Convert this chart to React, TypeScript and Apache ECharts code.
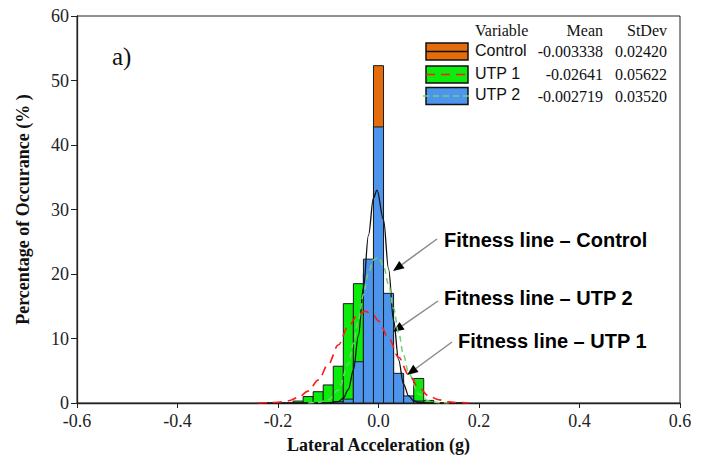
import React, { useEffect, useRef } from "react";
import * as echarts from "echarts";

// ---- data ----
const BIN_WIDTH = 0.02;

const controlBins = [-0.06, -0.04, -0.02, 0.0, 0.02, 0.04, 0.06];
const controlPct = [0.5, 5.0, 20.0, 52.3, 15.0, 3.5, 0.8];

const utp1Bins = [-0.16, -0.14, -0.12, -0.1, -0.08, -0.06, -0.04, -0.02, 0.0, 0.02, 0.04, 0.06, 0.08, 0.1];
const utp1Pct = [0.3, 1.0, 1.75, 2.8, 5.7, 15.4, 18.5, 20.0, 18.0, 8.0, 3.0, 1.0, 3.8, 0.4];

const utp2Bins = [-0.08, -0.06, -0.04, -0.02, 0.0, 0.02, 0.04, 0.06, 0.08];
const utp2Pct = [0.2, 0.6, 6.4, 22.3, 42.8, 17.0, 4.6, 1.1, 0.3];

const controlFitX = [-0.23, -0.1, -0.08, -0.07, -0.06, -0.05, -0.04, -0.03, -0.02, -0.01, -0.003, 0.01, 0.02, 0.03, 0.04, 0.05, 0.06, 0.07, 0.08, 0.1, 0.17];
const controlFitY = [0, 0.01, 0.22, 0.74, 2.1, 5.1, 10.4, 17.9, 26.0, 31.8, 33.0, 28.4, 20.8, 12.8, 6.7, 2.9, 1.1, 0.34, 0.09, 0, 0];

const utp2FitX = [-0.14, -0.12, -0.1, -0.08, -0.06, -0.05, -0.04, -0.03, -0.02, -0.01, 0.0, 0.01, 0.02, 0.03, 0.04, 0.05, 0.06, 0.08, 0.1, 0.12, 0.14];
const utp2FitY = [0.01, 0.09, 0.5, 2.0, 6.0, 9.2, 12.9, 16.8, 20.1, 22.2, 22.6, 21.2, 18.4, 14.7, 10.9, 7.4, 4.6, 1.4, 0.3, 0.05, 0];

const utp1FitX = [-0.24, -0.22, -0.2, -0.18, -0.16, -0.14, -0.12, -0.1, -0.08, -0.06, -0.04, -0.026, -0.01, 0.0, 0.02, 0.04, 0.06, 0.08, 0.1, 0.12, 0.14, 0.16, 0.18];
const utp1FitY = [0.01, 0.04, 0.12, 0.34, 0.84, 1.84, 3.55, 6.0, 9.0, 11.9, 13.8, 14.2, 13.6, 12.7, 10.1, 7.1, 4.4, 2.4, 1.1, 0.5, 0.18, 0.06, 0.01];

const legendNames = ["Control", "UTP 1", "UTP 2"];
const legendMeans = ["-0.003338", "-0.02641", "-0.002719"];
const legendStDevs = ["0.02420", "0.05622", "0.03520"];

const annotationTexts = ["Fitness line \u2013 Control", "Fitness line \u2013 UTP 2", "Fitness line \u2013 UTP 1"];

// ---- styles ----
const ORANGE = "#E46C0A";
const GREEN = "#0CEB0C";
const BLUE = "#4D94EC";
const RED = "#FF1A1A";
const LIGHTGREEN = "#72CF72";
const SERIF = '"Liberation Serif", "Times New Roman", serif';
const SANS = '"Liberation Sans", Arial, sans-serif';

function zip(xs: number[], ys: number[]) {
  return xs.map((x, i) => [x, ys[i]]);
}

function histSeries(name: string, bins: number[], pct: number[], color: string) {
  return {
    name,
    type: "custom",
    data: zip(bins, pct),
    encode: { x: 0, y: 1 },
    renderItem: (_p: any, api: any) => {
      const x = api.value(0);
      const y = api.value(1);
      const a = api.coord([x - BIN_WIDTH / 2, y]);
      const b = api.coord([x + BIN_WIDTH / 2, 0]);
      return {
        type: "rect",
        shape: { x: a[0], y: a[1], width: b[0] - a[0], height: b[1] - a[1] },
        style: { fill: color, stroke: "#1a1a1a", lineWidth: 1 },
      };
    },
    z: 2,
  };
}

function lineSeries(name: string, xs: number[], ys: number[], color: string, type: any, width: number) {
  return {
    name,
    type: "line",
    data: zip(xs, ys),
    showSymbol: false,
    smooth: 0.35,
    smoothMonotone: "x",
    lineStyle: { color, width, type },
    z: 3,
  };
}

function arrow(x1: number, y1: number, x2: number, y2: number) {
  const dx = x2 - x1;
  const dy = y2 - y1;
  const len = Math.sqrt(dx * dx + dy * dy);
  const ux = dx / len;
  const uy = dy / len;
  const hl = 11;
  const hw = 4.5;
  const bx = x2 - ux * hl;
  const by = y2 - uy * hl;
  return [
    {
      type: "line",
      shape: { x1, y1, x2: bx, y2: by },
      style: { stroke: "#8a8a8a", lineWidth: 1.5 },
    },
    {
      type: "polygon",
      shape: {
        points: [
          [x2, y2],
          [bx - uy * hw, by + ux * hw],
          [bx + uy * hw, by - ux * hw],
        ],
      },
      style: { fill: "#000" },
    },
  ];
}

export default function App() {
  const ref = useRef<HTMLDivElement>(null);

  useEffect(() => {
    document.body.style.margin = "0";
    if (!ref.current) return;
    const chart = echarts.init(ref.current, null, { renderer: "svg" });

    const swatchX = 426;
    const rowY = [51.5, 74.5, 96];
    const swatchColors = [ORANGE, GREEN, BLUE];

    const graphics: any[] = [];
    // panel label
    graphics.push({
      type: "text",
      style: { text: "a)", x: 112, y: 56, font: `25px ${SERIF}`, fill: "#111", verticalAlign: "middle", align: "left" },
    });
    // legend header
    graphics.push(
      { type: "text", style: { text: "Variable", x: 475, y: 30, font: `16px ${SERIF}`, fill: "#111", verticalAlign: "middle", align: "left" } },
      { type: "text", style: { text: "Mean", x: 603, y: 30, font: `16px ${SERIF}`, fill: "#111", verticalAlign: "middle", align: "right" } },
      { type: "text", style: { text: "StDev", x: 667, y: 30, font: `16px ${SERIF}`, fill: "#111", verticalAlign: "middle", align: "right" } }
    );
    legendNames.forEach((n, i) => {
      const cy = rowY[i];
      graphics.push({
        type: "rect",
        shape: { x: swatchX, y: cy - 8.5, width: 42, height: 17 },
        style: { fill: swatchColors[i], stroke: "#111", lineWidth: 1.5 },
      });
      if (i === 0) {
        graphics.push({ type: "line", shape: { x1: swatchX, y1: cy, x2: swatchX + 42, y2: cy }, style: { stroke: "#111", lineWidth: 1.5 } });
      } else if (i === 1) {
        graphics.push({ type: "line", shape: { x1: swatchX, y1: cy, x2: swatchX + 42, y2: cy }, style: { stroke: RED, lineWidth: 1.5, lineDash: [9, 6] } });
      } else {
        graphics.push({ type: "line", shape: { x1: swatchX - 3, y1: cy, x2: swatchX + 45, y2: cy }, style: { stroke: LIGHTGREEN, lineWidth: 1.5, lineDash: [6, 4] } });
      }
      graphics.push(
        { type: "text", style: { text: n, x: 475, y: cy - 1.5, font: `16px ${SANS}`, fill: "#111", verticalAlign: "middle", align: "left" } },
        { type: "text", style: { text: legendMeans[i], x: 603, y: cy, font: `16px ${SERIF}`, fill: "#111", verticalAlign: "middle", align: "right" } },
        { type: "text", style: { text: legendStDevs[i], x: 667, y: cy, font: `16px ${SERIF}`, fill: "#111", verticalAlign: "middle", align: "right" } }
      );
    });
    // annotations
    const annPos = [
      [444, 240],
      [444, 298],
      [458, 341],
    ];
    annotationTexts.forEach((t, i) => {
      graphics.push({
        type: "text",
        style: { text: t, x: annPos[i][0], y: annPos[i][1], font: `bold 20px ${SANS}`, fill: "#000", verticalAlign: "middle", align: "left" },
      });
    });
    graphics.push(...arrow(437, 239, 393, 271));
    graphics.push(...arrow(438, 301, 393, 332));
    graphics.push(...arrow(452, 342, 407, 375));

    chart.setOption({
      animation: false,
      backgroundColor: "#ffffff",
      grid: {
        left: 77,
        right: 21,
        top: 16,
        bottom: 54,
        show: true,
        borderColor: "#222",
        borderWidth: 1,
        backgroundColor: "transparent",
      },
      xAxis: {
        type: "value",
        min: -0.6,
        max: 0.6,
        interval: 0.2,
        name: "Lateral Acceleration (g)",
        nameLocation: "middle",
        nameGap: 33,
        nameTextStyle: { fontFamily: SERIF, fontWeight: "bold", fontSize: 18, color: "#111" },
        axisLine: { show: true, onZero: false, lineStyle: { color: "#222", width: 1.3 } },
        axisTick: { show: true, inside: false, length: 5, lineStyle: { color: "#222" } },
        axisLabel: {
          fontFamily: SERIF,
          fontSize: 18,
          color: "#222",
          margin: 9,
          formatter: (v: number) => (Math.abs(v) < 1e-9 ? "0.0" : v.toFixed(1)),
        },
        splitLine: { show: false },
      },
      yAxis: {
        type: "value",
        min: 0,
        max: 60,
        interval: 10,
        name: "Percentage of Occurance (% )",
        nameLocation: "middle",
        nameGap: 45,
        nameTextStyle: { fontFamily: SERIF, fontWeight: "bold", fontSize: 18, color: "#111" },
        axisLine: { show: true, onZero: false, lineStyle: { color: "#222", width: 1.3 } },
        axisTick: { show: true, inside: false, length: 6, lineStyle: { color: "#222" } },
        axisLabel: { fontFamily: SERIF, fontSize: 18, color: "#222", margin: 8 },
        splitLine: { show: false },
      },
      series: [
        histSeries("Control", controlBins, controlPct, ORANGE),
        histSeries("UTP 1", utp1Bins, utp1Pct, GREEN),
        histSeries("UTP 2", utp2Bins, utp2Pct, BLUE),
        lineSeries("Control fit", controlFitX, controlFitY, "#111", "solid", 1.3),
        lineSeries("UTP 2 fit", utp2FitX, utp2FitY, LIGHTGREEN, [6, 4], 1.5),
        lineSeries("UTP 1 fit", utp1FitX, utp1FitY, RED, [9, 6], 1.6),
      ],
      graphic: graphics,
    });

    return () => {
      chart.dispose();
    };
  }, []);

  return <div ref={ref} style={{ width: 701, height: 459 }} />;
}
